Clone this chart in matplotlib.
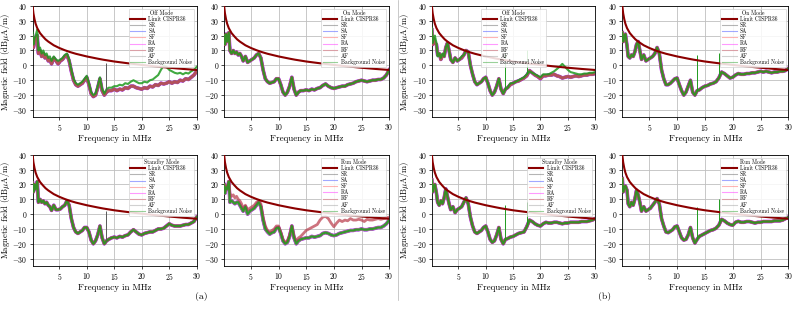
import matplotlib
matplotlib.use('Agg')
import matplotlib.pyplot as plt
from matplotlib.lines import Line2D
import numpy as np

plt.rcParams['font.family'] = 'serif'
plt.rcParams['font.serif'] = ['cmr10', 'DejaVu Serif']
plt.rcParams['mathtext.fontset'] = 'cm'
plt.rcParams['axes.formatter.use_mathtext'] = True

# frequency grid in MHz
freq = [0.15, 0.3, 0.5, 0.7, 1.0, 1.2, 1.5, 1.8, 2.1, 2.4, 2.7, 3.0, 3.3, 3.6, 4.0, 4.4, 4.8,
        5.2, 5.6, 6.0, 6.4, 6.8, 7.2, 7.6, 8.0, 8.4, 8.8, 9.2, 9.6, 10.0, 10.4, 10.8, 11.2,
        11.6, 12.0, 12.4, 12.8, 13.2, 13.6, 14.0, 14.5,
        15.0, 15.5, 16.0, 16.5, 17.0, 17.5, 18.0, 18.5, 19.0, 19.5, 20.0, 20.5, 21.0, 21.5,
        22.0, 22.5, 23.0, 23.5, 24.0, 24.5, 25.0, 25.5, 26.0, 26.5, 27.0, 27.5, 28.0, 28.5,
        29.0, 29.5, 30.0]

# CISPR 36 limit
limit_f = [0.15, 0.3, 0.5, 0.7, 1.0, 1.5, 2, 2.5, 3, 4, 5, 6, 7, 8, 10, 12, 13, 15, 17.5, 20, 22.5, 25, 27.5, 30]
limit_v = [40, 35, 31, 28, 25, 21.7, 19.5, 17.5, 16, 13.5, 11.7, 10.2, 8.9, 7.8, 6, 4.5, 3.8, 2.6, 1.4, 0.3, -0.7, -1.6, -2.4, -3.1]

# (a) measurements
off_a = [20, 12, 16, 18, 20, 8, 10, 6, 8, 5, 6, 3, 4, 1, 5, 3, 1, 3, 4, 6, 7, 3, -4, -10, -13, -14, -13, -12, -10, -8,
         -13, -19, -21, -20, -15, -9, -17, -20, -18, -17, -17,
         -16, -17, -16, -16.5, -15, -15.5, -14, -14, -15, -15.5, -16, -15, -15.5, -14, -14.5, -13, -13.5, -12,
         -12.5, -12, -11, -12, -11, -11.5, -10, -10.5, -9, -9.5, -8, -6.5, -4]
off_a_bg = [22, 14, 18, 20, 24, 10, 12, 8, 10, 7, 8, 5, 6, 3, 6, 4, 3, 4, 5, 7, 8, 4, -3, -9, -12, -13, -12, -11, -9, -7,
            -12, -18, -20, -19, -14, -8, -16, -19, -16, -15, -15,
            -14, -14, -13, -13.5, -12, -12.5, -11, -10, -11, -12, -12, -11, -11.5, -10, -9.5, -8, -6.5, -3,
            0, -1, -3, -4, -5, -5.5, -5, -6, -5, -5.5, -4, -3, -1]
on_a = [20, 14, 21, 16, 22, 10, 8, 10, 8, 9, 7, 8, 6, 3, 6, 2, 3, 4, 5, 7, 8, 5, -3, -9, -11, -12, -11.5, -11, -9, -9,
        -13, -18, -20, -18, -14, -8, -16, -20, -18, -17, -17,
        -16.5, -17, -16, -16.5, -15.5, -15, -13.5, -12.5, -14, -15, -15.5, -15, -14.5, -14, -14, -13, -12.5, -12,
        -11, -10.5, -10, -10.5, -11, -10.5, -10, -10, -9.5, -9.5, -8.5, -6.5, -3]
stby_a = [21, 15, 20, 17, 22, 8, 10, 8, 9, 7, 8, 6, 5, 2.5, 6, 3, 3, 3.5, 5, 6, 9, 6, -3, -9, -12, -13, -12, -11, -9, -9,
          -12, -17.5, -20, -18, -14, -8, -16, -20, -18, -17, -16,
          -15.5, -16, -15, -15.5, -14.5, -14, -12, -10.5, -12, -13.5, -14, -13, -12.5, -12, -12, -11, -10, -10,
          -9.5, -8, -6.5, -7.5, -8, -8, -8, -7.5, -7, -7, -6, -5, -2]
run_a = [20, 14, 18, 17, 22, 8, 9, 8, 7, 8, 8, 6, 4, 2, 5, 0, 2, 3, 4, 6, 8, 5, -4, -10, -12, -13.5, -12.5, -12, -9.5, -9,
         -13, -18, -20, -19, -15, -8, -16, -20, -18, -17, -16.5,
         -16, -16, -15, -15.5, -15, -14.5, -13, -12.5, -13, -14, -14.5, -14, -13, -12.5, -12, -11.5, -11, -11,
         -10.5, -10.5, -10, -10.5, -10.5, -10, -10, -9.5, -9, -9, -8, -6.5, -4]
run_a_rf = [20, 15, 19, 17, 22, 14, 12, 13, 11, 12, 10, 9, 7, 4, 6, 3, 4, 5, 6, 8, 9, 7, -2, -8, -11, -12, -11, -10, -8, -8,
            -12, -17, -19, -18, -14, -8, -15, -18, -16, -15, -13,
            -11, -10, -9, -8, -7, -4, -2, -1.5, -3, -6, -8.5, -6, -4, -5, -4, -4.5, -3, -4, -4, -3.5, -4, -5,
            -3.5, -4, -4, -3.5, -3, -3.5, -3, -2.5, -2]

# (b) measurements
off_b = [24, 14, 18, 15, 14, 7, 8, 4, 7, 6, 12, 15, 10, 4, 2, 5, 3, 4, 5, 7, 10, 9, 0, -6, -11, -13, -12, -11, -9, -8,
         -12, -17, -20, -18, -14, -9, -16, -19, -16, -15, -13,
         -12, -11, -10.5, -9.5, -8.5, -7, -3.5, -5, -6.5, -7.5, -9, -7, -7, -6.5, -6.5, -6, -7, -7.5, -8.5, -8,
         -7.5, -8, -7.5, -7, -7.5, -7, -6.5, -6.5, -6, -6, -5.5]
off_b_bg = [25, 15, 18, 20, 15, 6, 8, 5, 8, 6, 12, 15, 10, 4, 2, 5, 3, 4, 6, 7, 10, 9, 0, -6, -11, -13, -12, -11, -9, -8,
            -12, -17, -20, -18, -14, -9, -16, -19, -16, -15, -12,
            -12, -11, -10, -9, -8, -6, -4, -5, -6, -7, -8, -6, -6, -6, -5, -4, -2.5, -1, 1, -1, -3, -4.5, -5,
            -5.5, -6, -6, -5.5, -5.5, -5, -5, -4.5]
on_b = [22, 16, 19, 21, 13, 6, 5, 7, 6, 9, 14, 16, 10, 4, 7, 3, 4, 5, 6, 8, 12, 8, -3, -9, -13, -13, -12, -10.5, -9, -8.5,
        -13, -17, -20, -18, -14, -10, -18, -20, -17, -16.5, -15,
        -14, -13.5, -12.5, -12, -11, -8.5, -4.5, -5.5, -7, -8.5, -8, -6.5, -5.5, -6, -6, -5.5, -5.5, -5, -5, -4.5,
        -4, -4.5, -4, -4.5, -5, -4.5, -4.5, -4, -4, -3.5, -2]
stby_b = [23, 15, 19, 20, 14, 8, 6, 9, 7, 11, 17, 12, 7, 3, 5, 1, 3, 4, 5, 8, 11, 7, -2, -8, -12, -13, -12, -11, -9, -8,
          -12, -17, -19, -18, -14, -9, -17, -20, -17, -16.5, -15.5,
          -15, -14, -13, -12.5, -12, -8.5, -4, -5, -6.5, -7.5, -8, -6.5, -5.5, -6, -6, -5.5, -5.5, -6, -6.5, -6,
          -6, -5.5, -5.5, -5.5, -5.5, -5, -5, -5, -4.5, -4, -3]
run_b = [24, 15, 18, 19, 16, 7, 5, 8, 6, 10, 16, 13, 8, 2, 5, 2, 3, 4, 6, 8, 10.5, 7, -3, -8, -12, -12.5, -11.5, -10.5, -8.5, -8,
         -12, -16, -17.5, -17, -14, -9, -16, -19.5, -17, -15, -14,
         -13, -12, -11, -10.5, -9.5, -7.5, -3.5, -4.5, -6, -7, -7.5, -5.5, -4.8, -5.5, -5.5, -5, -5, -5.5, -6, -5.5,
         -5.5, -5, -5, -5, -5, -4.5, -4.5, -4.5, -4, -3, -2]

# narrow spikes (frequency, peak level)
spikes_a1 = [(13.56, 1.5)]
spikes_a3 = [(13.56, 2.0)]
spikes_b1 = [(13.56, 8), (17.6, 10)]
spikes_b2 = [(13.56, 7), (17.6, 8)]
spikes_b3 = [(13.56, 6), (17.6, 8)]
spikes_b4 = [(13.56, 5), (17.6, 10)]

names = ['SR', 'SA', 'SF', 'RA', 'RF', 'AF', 'Background Noise']
colors = ['0.35', '#3040ff', '#ff5a5a', '#ff20ff', '#b83848', '0.6', '#1f9a1f']
widths = [2.0, 2.4, 2.0, 2.7, 2.0, 2.0, 1.5]
zorders = [3, 2.5, 3, 2, 3.2, 3, 4]

fig = plt.figure(figsize=(7.95, 3.09), dpi=100)

panels = [
    ('Off Mode', off_a, off_a_bg, None, [0.041, 0.620, 0.2064, 0.361], 'upper right', spikes_a1, True),
    ('On Mode', on_a, on_a, None, [0.2819, 0.620, 0.2076, 0.361], 'upper right', [], False),
    ('Standby Mode', stby_a, stby_a, None, [0.041, 0.139, 0.2064, 0.360], 'upper right', spikes_a3, True),
    ('Run Mode', run_a, run_a, run_a_rf, [0.2819, 0.139, 0.2076, 0.360], 'upper right', [], False),
    ('Off Mode', off_b, off_b_bg, None, [0.5432, 0.620, 0.2054, 0.361], 'upper center', spikes_b1, True),
    ('On Mode', on_b, on_b, None, [0.7828, 0.620, 0.2088, 0.361], 'upper right', spikes_b2, False),
    ('Standby Mode', stby_b, stby_b, None, [0.5432, 0.139, 0.2054, 0.360], 'upper right', spikes_b3, True),
    ('Run Mode', run_b, run_b, None, [0.7828, 0.139, 0.2088, 0.360], 'upper right', spikes_b4, False),
]

# thin, faint legend handles like the original figure
handles = [Line2D([], [], color='#8b0000', lw=1.5)]
for i in range(len(names)):
    handles.append(Line2D([], [], color=colors[i], lw=0.8, alpha=0.45))
labels = ['Limit CISPR36'] + names

for k, (title, emis, bg, rf, pos, loc, spikes, left_col) in enumerate(panels):
    ax = fig.add_axes(pos)
    ax.plot(limit_f, limit_v, color='#8b0000', lw=1.5, zorder=5)
    for i, name in enumerate(names):
        vals = emis
        if name == 'Background Noise':
            vals = bg
        if name == 'RF' and rf is not None:
            vals = rf
        a = 0.85 if name == 'Background Noise' else 0.7
        ax.plot(freq, vals, color=colors[i], lw=widths[i], alpha=a, zorder=zorders[i])
    for f, top in spikes:
        if k < 4:
            c = colors[0]
        else:
            c = colors[6]
        ax.vlines(f, np.interp(f, freq, bg), top, color=c, lw=0.7, zorder=4)
    ax.set_xlim(0.15, 30)
    ax.set_ylim(-35, 40)
    ax.set_xticks([5, 10, 15, 20, 25, 30])
    ax.set_yticks([-30, -20, -10, 0, 10, 20, 30, 40])
    ax.grid(True, color='0.75', lw=0.6)
    ax.set_axisbelow(True)
    ax.tick_params(labelsize=5.5, length=2, width=0.5, pad=1.5)
    for s in ax.spines.values():
        s.set_linewidth(0.6)
    ax.set_xlabel('Frequency in MHz', fontsize=6.5, labelpad=1)
    if left_col:
        ax.set_ylabel(r'Magnetic field (dB$\mu$A/m)', fontsize=6.2)
        ax.yaxis.set_label_coords(-0.128, 0.5)
    leg = ax.legend(handles, labels, loc=loc, title=title, fontsize=4, title_fontsize=4, handlelength=2.6,
                    labelspacing=0.05, borderpad=0.3, handletextpad=0.6, fancybox=False,
                    edgecolor='0.8', framealpha=0.85)
    leg.get_frame().set_linewidth(0.5)
    leg.set_zorder(10)

fig.add_artist(Line2D([398 / 795, 398 / 795], [1.0, 0.03], color='0.7', lw=0.5))
fig.text(0.253, 0.042, '(a)', fontsize=7, ha='center', va='center')
fig.text(0.761, 0.042, '(b)', fontsize=7, ha='center', va='center')

fig.savefig('out.png', dpi=100)
